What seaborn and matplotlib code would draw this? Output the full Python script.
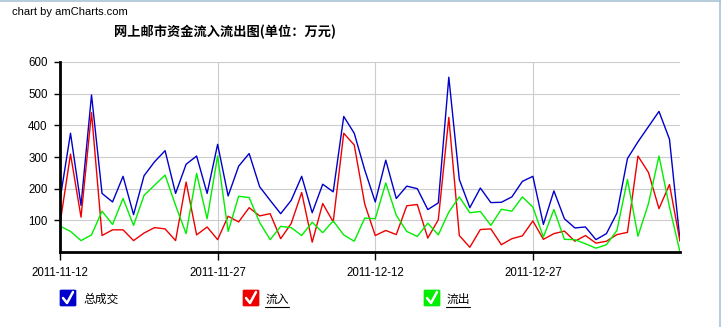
import numpy as np
import pandas as pd
import matplotlib
matplotlib.use("Agg")
import matplotlib.pyplot as plt
import matplotlib.dates as mdates
import seaborn as sns
from matplotlib.patches import FancyBboxPatch
from matplotlib.lines import Line2D

# ---------------- data ----------------
start_date = "2011-11-12"
total = [165, 375, 147, 496, 185, 158, 239, 118, 241, 285,
         320, 185, 277, 303, 185, 340, 177, 271, 311, 206,
         163, 121, 163, 239, 124, 214, 190, 428, 375, 259,
         158, 290, 169, 208, 200, 134, 155, 552, 229, 140,
         202, 156, 157, 174, 223, 239, 87, 193, 105, 76,
         79, 39, 58, 123, 295, 348, 396, 444, 356, 36]
inflow = [89, 309, 110, 440, 52, 70, 70, 36, 60, 77,
          73, 36, 221, 54, 79, 39, 113, 95, 140, 114,
          121, 42, 90, 188, 31, 153, 95, 375, 338, 151,
          52, 68, 55, 146, 150, 44, 102, 425, 52, 15,
          71, 73, 23, 42, 51, 98, 40, 58, 66, 34,
          52, 28, 34, 55, 62, 303, 251, 137, 213, 34]
outflow = [82, 65, 36, 54, 129, 87, 169, 84, 179, 211,
           243, 147, 58, 248, 105, 303, 65, 176, 172, 93,
           39, 81, 77, 52, 94, 61, 98, 54, 34, 107,
           105, 218, 116, 65, 49, 91, 54, 126, 174, 124,
           128, 84, 135, 129, 174, 142, 47, 134, 40, 39,
           26, 12, 23, 68, 229, 50, 153, 303, 142, 0]
series_names = ["总成交", "流入", "流出"]
series_colors = ["#0000CC", "#EE0000", "#00EE00"]
x_tick_labels = ["2011-11-12", "2011-11-27", "2011-12-12", "2011-12-27"]
y_ticks = [100, 200, 300, 400, 500, 600]
title = "网上邮市资金流入流出图(单位：万元)"
credit = "chart by amCharts.com"

dates = pd.date_range(start_date, periods=len(total), freq="D")
df = pd.DataFrame({
    "date": np.tile(dates.values, 3),
    "value": total + inflow + outflow,
    "series": np.repeat(series_names, len(total)),
})

# ---------------- figure ----------------
sns.set_theme(style="white")
plt.rcParams["font.family"] = ["Liberation Sans", "Noto Sans CJK SC", "DejaVu Sans"]

W, H = 721, 327
fig = plt.figure(figsize=(W / 100, H / 100), dpi=100)
fig.patch.set_facecolor("white")
ax = fig.add_axes([60 / W, (H - 252) / H, 620 / W, 190 / H])

sns.lineplot(data=df, x="date", y="value", hue="series",
             palette=dict(zip(series_names, series_colors)),
             hue_order=series_names, estimator=None,
             linewidth=1.0, legend=False, ax=ax, zorder=3)

ax.set_xlim(dates[0], dates[-1])
ax.set_ylim(0, 600)
ax.set_xlabel("")
ax.set_ylabel("")
ax.set_xticks(pd.to_datetime(x_tick_labels))
ax.xaxis.set_major_formatter(mdates.DateFormatter("%Y-%m-%d"))
ax.set_yticks(y_ticks)

ax.grid(True, color="#CCCCCC", linewidth=0.8, zorder=0)
ax.set_axisbelow(True)
for s in ["top", "right"]:
    ax.spines[s].set_visible(False)
for s in ["left", "bottom"]:
    ax.spines[s].set_color("black")
    ax.spines[s].set_linewidth(2.0)
    ax.spines[s].set_zorder(4)

ax.tick_params(axis="x", direction="out", length=6, width=1, color="black",
               labelsize=8.3, pad=5, bottom=True, labelcolor="black")
ax.tick_params(axis="y", direction="out", length=4, width=1, color="black",
               labelsize=8.3, pad=5, left=True, labelcolor="black")

# texts
fig.text(12 / W, 1 - 12 / H, credit, fontsize=8, ha="left", va="center", color="black")
fig.text(225 / W, 1 - 32 / H, title, fontsize=9.5, fontweight="bold", ha="center",
         va="center", color="black", family=["Noto Sans CJK SC", "DejaVu Sans"])

# legend with checkbox icons
def fx(px):
    return px / W

def fy(py):
    return 1 - py / H

legend_x = [60, 243, 424]
for i, (name, col) in enumerate(zip(series_names, series_colors)):
    bx = legend_x[i]
    by = 290
    box = FancyBboxPatch((fx(bx), fy(by + 16)), 16 / W, 16 / H,
                         boxstyle="round,pad=0,rounding_size=0.002",
                         transform=fig.transFigure, facecolor=col, edgecolor=col,
                         linewidth=0.5)
    fig.add_artist(box)
    fig.add_artist(Line2D([fx(bx + 3), fx(bx + 7), fx(bx + 13)],
                          [fy(by + 8), fy(by + 13), fy(by + 2)],
                          transform=fig.transFigure, color="white", linewidth=1.8,
                          solid_capstyle="round", solid_joinstyle="round"))
    t = fig.text(fx(bx + 23), fy(by + 9), name, fontsize=8.5, ha="left", va="center",
                 color="black", family=["Noto Sans CJK SC", "DejaVu Sans"])
    if i > 0:
        fig.add_artist(Line2D([fx(bx + 22), fx(bx + 46)], [fy(by + 17), fy(by + 17)],
                              transform=fig.transFigure, color="black", linewidth=0.8))

# frame lines (top and right)
fig.add_artist(Line2D([0, 1], [fy(0.5), fy(0.5)], transform=fig.transFigure,
                      color="#A9C4D4", linewidth=1.2))
fig.add_artist(Line2D([fx(719.5), fx(719.5)], [0, 1], transform=fig.transFigure,
                      color="#A9C4D4", linewidth=1.2))

fig.savefig("out.png", dpi=100, facecolor="white")
